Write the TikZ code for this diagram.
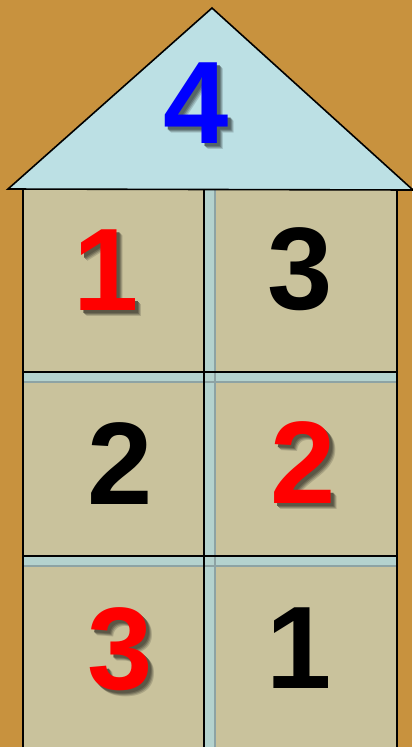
\documentclass[tikz,border=0pt]{standalone}
\usepackage{fontspec}
\setmainfont{Liberation Sans}
\definecolor{wallbg}{HTML}{C8923E}
\definecolor{roofblue}{HTML}{BCE0E4}
\definecolor{cellbeige}{HTML}{C9C29C}
\definecolor{barblue}{HTML}{B4D2CE}
\definecolor{bargray}{HTML}{8DA3A4}
% a digit with a soft drop shadow: {background}{colour}{digit}
\newcommand{\shadednum}[3]{%
    \makebox[0pt][l]{\hspace{4.5pt}\raisebox{-4.5pt}{\textcolor{#1!85!black}{#3}}}%
    \makebox[0pt][l]{\hspace{3.75pt}\raisebox{-3.75pt}{\textcolor{#1!70!black}{#3}}}%
    \makebox[0pt][l]{\hspace{3pt}\raisebox{-3pt}{\textcolor{#1!55!black}{#3}}}%
    \makebox[0pt][l]{\hspace{2.25pt}\raisebox{-2.25pt}{\textcolor{#1!45!black}{#3}}}%
    \textcolor{#2}{#3}}
\begin{document}
\begin{tikzpicture}[x=0.75pt, y=-0.75pt,
    digit/.style={anchor=base, inner sep=0pt, font=\fontsize{88}{88}\selectfont\bfseries}]
    \useasboundingbox (0,0) rectangle (412,747);
    \fill[wallbg] (0,0) rectangle (412,747);

    % body and cells
    \fill[barblue] (23,190) rectangle (397,747);
    \foreach \ya/\yb in {190/372, 382/556, 566/747} {
        \fill[cellbeige] (23,\ya) rectangle (204,\yb);
        \fill[cellbeige] (215,\ya) rectangle (397,\yb);
    }
    \draw[bargray, line width=1.2pt] (215,190) -- (215,747);
    \draw[bargray, line width=1.2pt] (23,382) -- (397,382);
    \draw[bargray, line width=1.2pt] (23,566) -- (397,566);

    \draw[line width=1.5pt] (23,190) -- (23,747);
    \draw[line width=1.5pt] (204,190) -- (204,747);
    \draw[line width=1.5pt] (397,190) -- (397,747);
    \draw[line width=1.5pt] (23,372) -- (397,372);
    \draw[line width=1.5pt] (23,556) -- (397,556);

    % roof
    \draw[fill=roofblue, line width=1.2pt] (8,189) -- (212,8) -- (413,190) -- cycle;

    % numbers
    \node[digit] (roofnum) at (196,143) {\shadednum{roofblue}{blue}{4}};
    \node[digit] (topleft) at (106,310) {\shadednum{cellbeige}{red}{1}};
    \node[digit] (topright) at (300,309) {3};
    \node[digit] (midleft) at (120,504) {2};
    \node[digit] (midright) at (303,503) {\shadednum{cellbeige}{red}{2}};
    \node[digit] (botleft) at (120,689) {\shadednum{cellbeige}{red}{3}};
    \node[digit] (botright) at (299,688) {1};
\end{tikzpicture}
\end{document}
